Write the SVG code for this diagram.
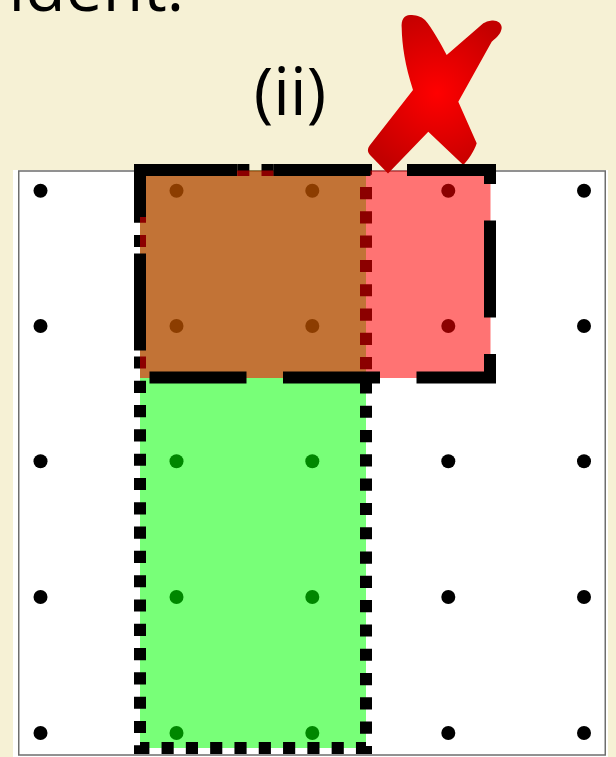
<svg xmlns="http://www.w3.org/2000/svg" width="616" height="757" viewBox="0 0 616 757">
  <defs>
    <radialGradient id="xgrad" gradientUnits="userSpaceOnUse" cx="437" cy="93" r="85">
      <stop offset="0" stop-color="#FF0000"/>
      <stop offset="1" stop-color="#C20000"/>
    </radialGradient>
  </defs>
  <style>
    .lbl { font-family: "Open Sans", "Noto Sans", "Liberation Sans", sans-serif; font-size: 66px; fill: #000; }
    .dot { fill: #000; }
    .dotted { fill: none; stroke: #000; stroke-width: 12; stroke-dasharray: 12.15 12.15; }
    .dashed { fill: none; stroke: #000; stroke-width: 12; stroke-dasharray: 97 36.5; stroke-linejoin: miter; }
  </style>
  <rect x="0" y="0" width="616" height="757" fill="#F6F1D5"/>
  <text class="lbl" x="184" y="11" text-anchor="end">ident:</text>
  <text class="lbl" x="290" y="115" text-anchor="middle">(ii)</text>

  <g id="panel">
    <rect x="13" y="170" width="595" height="590" fill="#FFFFFF"/>
    <rect x="18.75" y="171" width="586.5" height="584" fill="none" stroke="#6E6E6E" stroke-width="1.5"/>
  </g>

  <g id="dots">
    <circle class="dot" cx="40.5" cy="190.7" r="7"/>
    <circle class="dot" cx="176.5" cy="190.7" r="7"/>
    <circle class="dot" cx="312.3" cy="190.7" r="7"/>
    <circle class="dot" cx="448.3" cy="190.7" r="7"/>
    <circle class="dot" cx="584" cy="190.7" r="7"/>
    <circle class="dot" cx="40.5" cy="326" r="7"/>
    <circle class="dot" cx="176.5" cy="326" r="7"/>
    <circle class="dot" cx="312.3" cy="326" r="7"/>
    <circle class="dot" cx="448.3" cy="326" r="7"/>
    <circle class="dot" cx="584" cy="326" r="7"/>
    <circle class="dot" cx="40.5" cy="461.3" r="7"/>
    <circle class="dot" cx="176.5" cy="461.3" r="7"/>
    <circle class="dot" cx="312.3" cy="461.3" r="7"/>
    <circle class="dot" cx="448.3" cy="461.3" r="7"/>
    <circle class="dot" cx="584" cy="461.3" r="7"/>
    <circle class="dot" cx="40.5" cy="597" r="7"/>
    <circle class="dot" cx="176.5" cy="597" r="7"/>
    <circle class="dot" cx="312.3" cy="597" r="7"/>
    <circle class="dot" cx="448.3" cy="597" r="7"/>
    <circle class="dot" cx="584" cy="597" r="7"/>
    <circle class="dot" cx="40.5" cy="733" r="7"/>
    <circle class="dot" cx="176.5" cy="733" r="7"/>
    <circle class="dot" cx="312.3" cy="733" r="7"/>
    <circle class="dot" cx="448.3" cy="733" r="7"/>
    <circle class="dot" cx="584" cy="733" r="7"/>
  </g>

  <g id="green-region">
    <rect x="140" y="170.5" width="226" height="577.5" fill="#00FF00" fill-opacity="0.53"/>
    <path class="dotted" d="M140,170 H366 V748 H140 Z"/>
  </g>

  <g id="red-region">
    <rect x="140" y="170.5" width="350.5" height="207.5" fill="#FF0000" fill-opacity="0.55"/>
  </g>

  <g id="cross">
    <path fill="url(#xgrad)" d="M410,15 C404,15 401,20 401.7,28 C402,45 405,65 413,90 L370,145 C367,149 367.5,152 370,155 L388,173.5 L428.3,131.7 L463.3,165 C468,160 474,152 476.7,143.3 L458.3,101.7 L491.7,41.7 C497,37 501,34 501.7,28 C502,23 497,20 492,20.5 C488,21 485.5,22 483.3,23.3 L446.7,55 C441,44 432,28 425,20 C421,16 415,15 410,15 Z"/>
  </g>

  <g id="red-border">
    <path class="dashed" d="M140,170 H490 V377.5 H140 Z"/>
    <rect x="134" y="164" width="12" height="12" fill="#000"/>
  </g>
</svg>
